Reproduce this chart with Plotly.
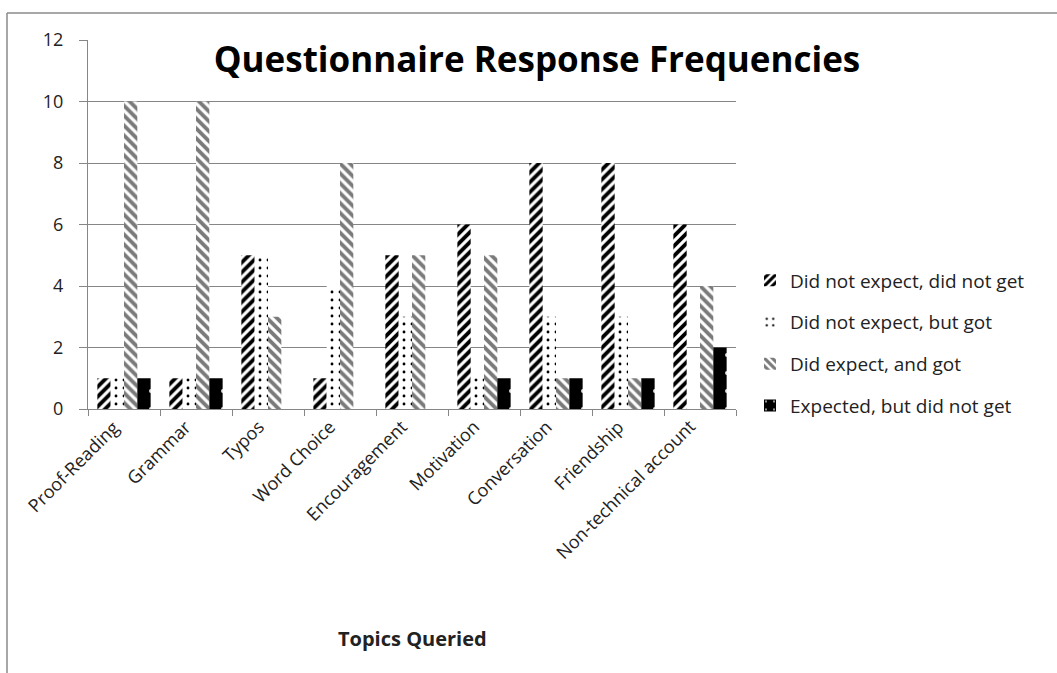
import plotly.graph_objects as go

categories = ["Proof-Reading", "Grammar", "Typos", "Word Choice", "Encouragement",
              "Motivation", "Conversation", "Friendship", "Non-technical account"]
did_not_expect_did_not_get = [1, 1, 5, 1, 5, 6, 8, 8, 6]
did_not_expect_but_got = [1, 1, 5, 4, 3, 1, 3, 3, 0]
did_expect_and_got = [10, 10, 3, 8, 5, 5, 1, 1, 4]
expected_but_did_not_get = [1, 1, 0, 0, 0, 1, 1, 1, 2]

series_names = ["Did not expect, did not get", "Did not expect, but got",
                "Did expect, and got", "Expected, but did not get"]

W, H = 1057, 673
L, R, T, B = 88, 736, 40, 409

fig = go.Figure()
fig.add_trace(go.Bar(
    x=categories, y=did_not_expect_did_not_get, name=series_names[0], legendgroup="a",
    marker=dict(color="white", line=dict(width=0),
                pattern=dict(shape="/", fgcolor="black", bgcolor="white", size=7,
                             solidity=0.55, fgopacity=1))))
fig.add_trace(go.Bar(
    x=categories, y=did_not_expect_but_got, name=series_names[1], legendgroup="b",
    marker=dict(color="white", line=dict(width=0),
                pattern=dict(shape=".", fgcolor="black", bgcolor="white", size=8,
                             solidity=0.1, fgopacity=1))))
fig.add_trace(go.Bar(
    x=categories, y=did_expect_and_got, name=series_names[2], legendgroup="c",
    marker=dict(color="white", line=dict(width=0),
                pattern=dict(shape="\\", fgcolor="#7a7a7a", bgcolor="white", size=7,
                             solidity=0.55, fgopacity=1))))
fig.add_trace(go.Bar(
    x=categories, y=expected_but_did_not_get, name=series_names[3], legendgroup="d",
    marker=dict(color="black", line=dict(width=0),
                pattern=dict(shape=".", fgcolor="#dddddd", bgcolor="black", size=18,
                             solidity=0.04, fgopacity=1))))

fig.update_layout(
    width=W, height=H,
    margin=dict(l=L, r=W - R, t=T, b=H - B, pad=0),
    paper_bgcolor="white", plot_bgcolor="white",
    barmode="group", bargap=0.26, bargroupgap=0,
    font=dict(family="Open Sans", size=16, color="#222222"),
    title=dict(text="<b>Questionnaire Response Frequencies</b>",
               font=dict(family="Open Sans", size=35, color="black"),
               x=537 / W, xanchor="center", y=1 - 60 / H, yanchor="middle"),
    legend=dict(x=(750 - L) / (R - L), xanchor="left", y=(B - 343) / (B - T), yanchor="middle",
                font=dict(size=19, color="#222222"), traceorder="grouped", tracegroupgap=14,
                bgcolor="rgba(0,0,0,0)"),
    showlegend=True,
)
fig.update_xaxes(
    type="category", range=[-0.5, len(categories) - 0.5], autorange=False,
    showline=True, linecolor="#868686", linewidth=1,
    ticks="outside", ticklen=6, tickcolor="#868686", tickson="boundaries",
    showticklabels=False, showgrid=False,
)
fig.update_yaxes(
    range=[0, 12], dtick=2, showline=True, linecolor="#868686", linewidth=1,
    ticks="outside", ticklen=8, tickcolor="#868686", ticklabelstandoff=12,
    showgrid=True, gridcolor="#868686", gridwidth=1,
    tickfont=dict(size=18, color="#222222"), zeroline=False,
)
# rotated category labels
for i, c in enumerate(categories):
    fig.add_annotation(text=c, x=i, xref="x", yref="paper", y=-0.008,
                       xanchor="right", yanchor="top", xshift=3, textangle=-45,
                       showarrow=False, font=dict(size=18, color="#222222"))
fig.add_annotation(text="<b>Topics Queried</b>", xref="paper", yref="paper",
                   x=0.5, xanchor="center", y=(B - 638) / (B - T), yanchor="middle",
                   showarrow=False, font=dict(size=20, color="#222222"))
# outer chart border (top and left edges visible)
bx = (7 - L) / (R - L)
by = (B - 13) / (B - T)
fig.add_shape(type="line", xref="paper", yref="paper", x0=bx, y0=by, x1=2.0, y1=by,
              line=dict(color="#8a8a8a", width=1.5))
fig.add_shape(type="line", xref="paper", yref="paper", x0=bx, y0=by, x1=bx, y1=-1.0,
              line=dict(color="#8a8a8a", width=1.5))

fig.write_html("out.html", config={"displayModeBar": False},
               post_script="document.body.style.margin='0';document.body.style.overflow='hidden';")
